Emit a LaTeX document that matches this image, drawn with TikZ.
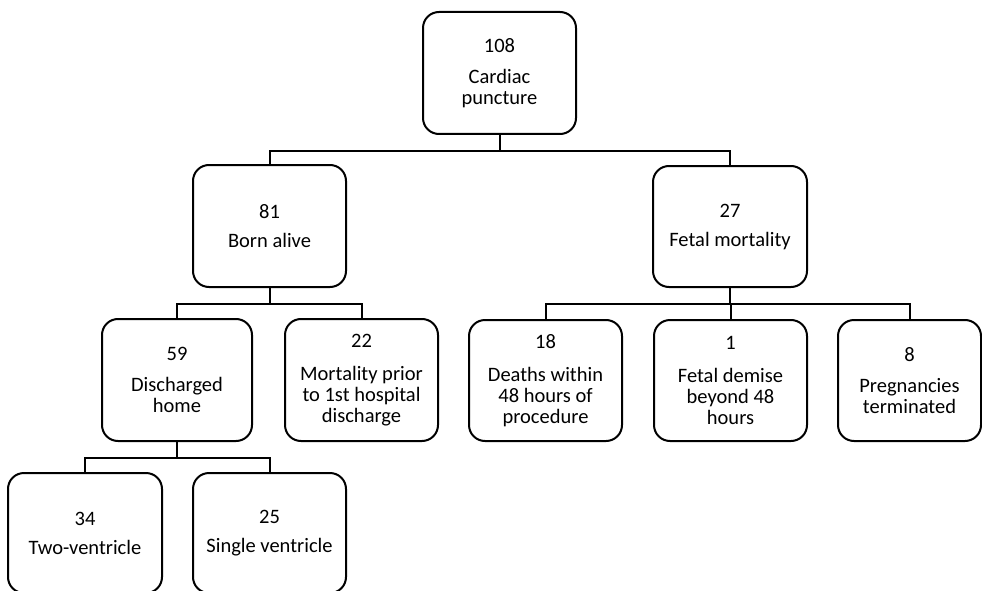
\documentclass[tikz,border=0pt]{standalone}
\usepackage{fontspec}
\setmainfont{Carlito}
\begin{document}
\begin{tikzpicture}[x=1pt,y=-1pt,
  box/.style={draw, line width=2pt, rounded corners=16pt, align=center, inner sep=0pt,
    minimum width=153pt, minimum height=122pt, font=\fontsize{20.5}{21}\selectfont},
  link/.style={line width=2pt}]
\useasboundingbox (0,0) rectangle (982,591);
\node[box] (top) at (499.5,73) {108\\[10pt]Cardiac\\puncture};
\node[box] (born) at (269.5,226) {81\\[8pt]Born alive};
\node[box, minimum width=154pt, minimum height=121pt] (fetal) at (730,226.5) {27\\[8pt]Fetal mortality};
\node[box, minimum width=150pt] (disch) at (177,380) {59\\[10pt]Discharged\\home};
\node[box] (mort) at (361.5,380) {22\\[12pt]Mortality prior\\to 1st hospital\\discharge};
\node[box, minimum height=121pt] (deaths) at (545.5,380.5) {18\\[12pt]Deaths within\\48 hours of\\procedure};
\node[box, minimum height=121pt] (demise) at (730.5,380.5) {1\\[12pt]Fetal demise\\beyond 48\\hours};
\node[box, minimum width=143pt, minimum height=121pt] (preg) at (909.5,380.5) {8\\[10pt]Pregnancies\\terminated};
\node[box, minimum width=154pt, minimum height=120pt] (two) at (85,533) {34\\[8pt]Two-ventricle};
\node[box, minimum height=120pt] (single) at (269.5,533) {25\\[8pt]Single ventricle};
\draw[link] (top.south) -- ++(0,16) -| (born.north);
\draw[link] (top.south) -- ++(0,16) -| (fetal.north);
\draw[link] (born.south) -- ++(0,16) -| (disch.north);
\draw[link] (born.south) -- ++(0,16) -| (mort.north);
\draw[link] (fetal.south) -- ++(0,16) -| (deaths.north);
\draw[link] (fetal.south) -- ++(0,16) -| (demise.north);
\draw[link] (fetal.south) -- ++(0,16) -| (preg.north);
\draw[link] (disch.south) -- ++(0,16) -| (two.north);
\draw[link] (disch.south) -- ++(0,16) -| (single.north);
\end{tikzpicture}
\end{document}
